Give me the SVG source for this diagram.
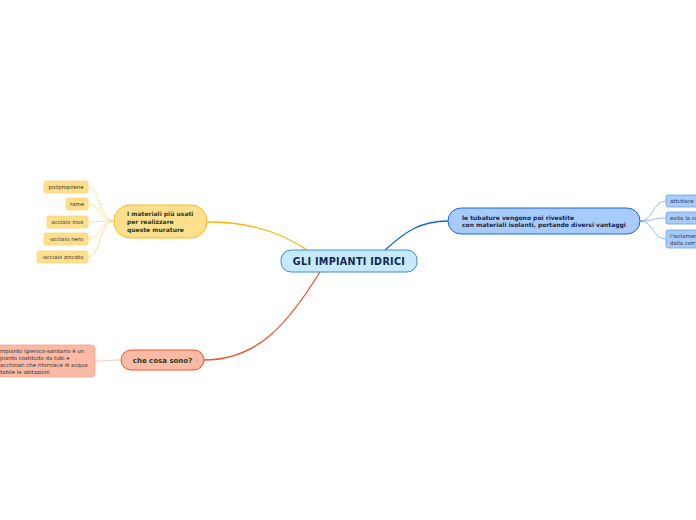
<svg xmlns="http://www.w3.org/2000/svg" width="696" height="520" viewBox="0 0 696 520">
<style>
text{font-family:"DejaVu Sans","Liberation Sans",sans-serif}
.main{font-size:9.6px;font-weight:bold;fill:#102a4e;letter-spacing:0.3px}
.sub{font-size:6px;font-weight:bold}
.leaf{font-size:5.4px;fill:#333}
.c{fill:none;stroke-width:1.3}
.l{fill:none;stroke-width:0.8}
</style>
<rect width="696" height="520" fill="#fff"/>
<g id="connectors">
<path class="c" stroke="#fbb400" d="M307,250 C280,232 250,222 207,222"/>
<path class="c" stroke="#1565d8" d="M385,250 C405,232 420,221 448,221"/>
<path class="c" stroke="#f0552a" d="M320,272 C290,320 260,360 204,360"/>
<g stroke="#fcd57a">
<path class="l" d="M114,221 C100,221 100,187 88,187"/>
<path class="l" d="M114,221 C100,221 100,204 88,204"/>
<path class="l" d="M114,221 C100,221 100,222 88,222"/>
<path class="l" d="M114,221 C100,221 100,239 88,239"/>
<path class="l" d="M114,221 C100,221 100,257 88,257"/>
</g>
<g stroke="#7aa8f2">
<path class="l" d="M640,221 C654,221 652,201 666,201"/>
<path class="l" d="M640,221 C654,221 652,218 666,218"/>
<path class="l" d="M640,221 C654,221 652,239 666,239"/>
</g>
<path class="l" stroke="#f8b9a6" d="M121,360 C108,360 108,361 95,361"/>
</g>
<g id="central">
<rect x="281" y="250" width="136" height="22" rx="10" fill="#c6e9fc" stroke="#3a8fd6" stroke-width="1"/>
<text class="main" x="349" y="264.5" text-anchor="middle">GLI IMPIANTI IDRICI</text>
</g>
<g id="tubature">
<rect x="448" y="208" width="192" height="26" rx="13" fill="#a7cbfb" stroke="#1f66d6" stroke-width="1"/>
<text class="sub" fill="#18284a"><tspan x="462" y="219.5">le tubature vengono poi rivestite</tspan><tspan x="462" y="227">con materiali isolanti, portando diversi vantaggi</tspan></text>
</g>
<g id="attutisce">
<rect x="666" y="195" width="40" height="12" rx="2" fill="#a7cbfb" stroke="#6c9ff0" stroke-width="0.8"/>
<text class="leaf" x="670" y="203">attutisce</text>
</g>
<g id="evita">
<rect x="666" y="212" width="40" height="12" rx="2" fill="#a7cbfb" stroke="#6c9ff0" stroke-width="0.8"/>
<text class="leaf" x="670" y="220">evita la co</text>
</g>
<g id="isolamento">
<rect x="666" y="230" width="40" height="18" rx="2" fill="#a7cbfb" stroke="#6c9ff0" stroke-width="0.8"/>
<text class="leaf"><tspan x="670" y="238">l'isolamen</tspan><tspan x="670" y="245">dalla corr</tspan></text>
</g>
<g id="materiali">
<rect x="114" y="205" width="93" height="33" rx="16" fill="#fddf8e" stroke="#f7b81e" stroke-width="1"/>
<text class="sub" fill="#1f3b22"><tspan x="127" y="216">I materiali più usati</tspan><tspan x="127" y="224">per realizzare</tspan><tspan x="127" y="232">queste murature</tspan></text>
</g>
<g id="polipropilene">
<rect x="44" y="181" width="44" height="12" rx="2" fill="#fddf8e" stroke="#fcd57a" stroke-width="0.8"/>
<text class="leaf" x="66" y="189" text-anchor="middle">polipropilene</text>
</g>
<g id="rame">
<rect x="66" y="198" width="22" height="12" rx="2" fill="#fddf8e" stroke="#fcd57a" stroke-width="0.8"/>
<text class="leaf" x="77" y="206" text-anchor="middle">rame</text>
</g>
<g id="inox">
<rect x="47" y="216" width="41" height="12" rx="2" fill="#fddf8e" stroke="#fcd57a" stroke-width="0.8"/>
<text class="leaf" x="67.5" y="224" text-anchor="middle">acciaio inox</text>
</g>
<g id="nero">
<rect x="44" y="233" width="44" height="12" rx="2" fill="#fddf8e" stroke="#fcd57a" stroke-width="0.8"/>
<text class="leaf" x="66" y="241" text-anchor="middle">-acciaio nero</text>
</g>
<g id="zincato">
<rect x="37" y="251" width="51" height="12" rx="2" fill="#fddf8e" stroke="#fcd57a" stroke-width="0.8"/>
<text class="leaf" x="62.5" y="259" text-anchor="middle">-acciaio zincato</text>
</g>
<g id="checosa">
<rect x="121" y="350" width="83" height="20" rx="10" fill="#fbbaa5" stroke="#f0552a" stroke-width="1"/>
<text class="sub" x="162.5" y="362.5" text-anchor="middle" fill="#1f3b22" style="font-size:7px">che cosa sono?</text>
</g>
<g id="impianto">
<rect x="-10" y="345" width="105" height="32" rx="4" fill="#fbbaa5" stroke="#f5a48c" stroke-width="0.8"/>
<text class="leaf"><tspan x="0" y="353">mpianto igienico-sanitario è un</tspan><tspan x="0" y="360">pianto costituito da tubi e</tspan><tspan x="0" y="367">acchinari che rifornisce di acqua</tspan><tspan x="0" y="374">tabile le abitazioni</tspan></text>
</g>
</svg>
